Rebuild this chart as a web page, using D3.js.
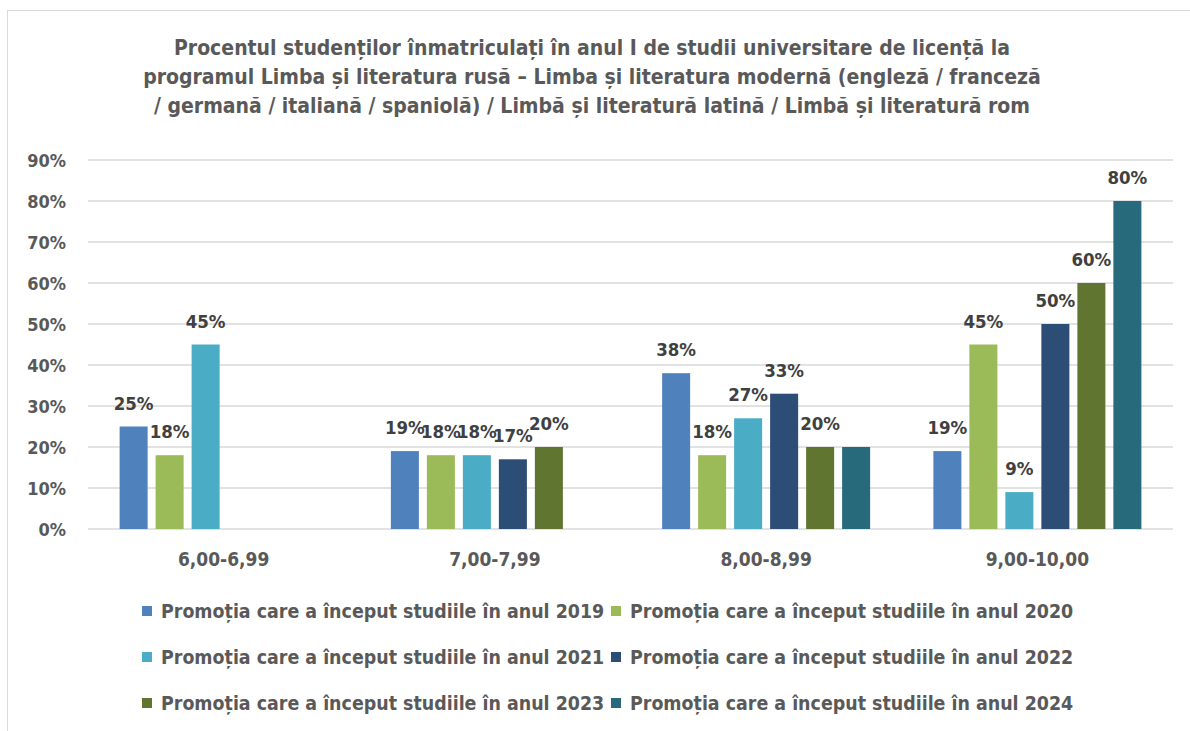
<!DOCTYPE html>
<html>
<head>
<meta charset="utf-8">
<script src="https://cdn.jsdelivr.net/npm/d3@7"></script>
<style>
body{margin:0;background:#fff;}
text{font-family:"Liberation Sans Narrow","DejaVu Sans Condensed",sans-serif;font-weight:bold;}
</style>
</head>
<body>
<script>
var categories=["6,00-6,99","7,00-7,99","8,00-8,99","9,00-10,00"];
var seriesNames=["Promoția care a început studiile în anul 2019","Promoția care a început studiile în anul 2020",
"Promoția care a început studiile în anul 2021","Promoția care a început studiile în anul 2022",
"Promoția care a început studiile în anul 2023","Promoția care a început studiile în anul 2024"];
var s2019=[25,19,38,19];
var s2020=[18,18,18,45];
var s2021=[45,18,27,9];
var s2022=[null,17,33,50];
var s2023=[null,20,20,60];
var s2024=[null,null,20,80];
// labels shown per bar (the 2024 label in 8,00-8,99 is hidden in the original)
var s2024Labels=[false,false,false,true];
var yTicks=[0,10,20,30,40,50,60,70,80,90];
var titleLines=["Procentul studenților înmatriculați în anul I de studii universitare de licență la",
"programul Limba și literatura rusă – Limba și literatura modernă (engleză / franceză",
"/ germană / italiană / spaniolă) / Limbă și literatură latină / Limbă și literatură rom"];
var colors=["#4F81BD","#9BBB59","#4BACC6","#2C4D75","#5F7530","#276A7C"];

var allSeries=[s2019,s2020,s2021,s2022,s2023,s2024];

var W=1190,H=731;
var svg=d3.select("body").append("svg").attr("width",W).attr("height",H);

svg.append("rect").attr("x",7.5).attr("y",10.5).attr("width",W).attr("height",H)
 .attr("fill","#fff").attr("stroke","#D9D9D9");

svg.selectAll(".title").data(titleLines).enter().append("text")
 .attr("x",592).attr("y",function(d,i){return 55+i*29;})
 .attr("text-anchor","middle").attr("fill","#595959").style("font-size","21px")
 .text(function(d){return d;});

var x0=d3.scaleBand().domain(categories).range([88,1173]);
var x1=d3.scaleBand().domain(d3.range(6)).range([0,216]).paddingInner(0.222).paddingOuter(0.111);
var y=d3.scaleLinear().domain([0,90]).range([529,160]);

// gridlines
svg.append("g").selectAll("line").data(yTicks).enter().append("line")
 .attr("x1",88).attr("x2",1173)
 .attr("y1",function(d){return y(d);}).attr("y2",function(d){return y(d);})
 .attr("stroke","#D9D9D9").attr("stroke-width",1.5);

var yAxis=svg.append("g").attr("transform","translate(66,0)")
 .call(d3.axisLeft(y).tickValues(yTicks).tickSize(0).tickPadding(0).tickFormat(function(d){return d+"%";}));
yAxis.select(".domain").remove();
yAxis.selectAll("text").attr("fill","#595959").style("font-size","18px").attr("dy","0.35em");

var xAxis=svg.append("g").attr("transform","translate(0,529)")
 .call(d3.axisBottom(x0).tickSize(0).tickPadding(24));
xAxis.select(".domain").remove();
xAxis.selectAll("text").attr("fill","#595959").style("font-size","19px");

var groupOffset=(x0.bandwidth()-216)/2;
var bars=[];
allSeries.forEach(function(s,si){
  s.forEach(function(v,ci){
    if(v===null) return;
    bars.push({si:si,ci:ci,v:v,label:si<5||s2024Labels[ci]});
  });
});

var g=svg.append("g");
g.selectAll("rect").data(bars).enter().append("rect")
 .attr("x",function(d){return x0(categories[d.ci])+groupOffset+x1(d.si);})
 .attr("y",function(d){return y(d.v);})
 .attr("width",x1.bandwidth())
 .attr("height",function(d){return y(0)-y(d.v);})
 .attr("fill",function(d){return colors[d.si];});

g.selectAll("text").data(bars.filter(function(d){return d.label;})).enter().append("text")
 .attr("x",function(d){return x0(categories[d.ci])+groupOffset+x1(d.si)+x1.bandwidth()/2;})
 .attr("y",function(d){return y(d.v)-17;})
 .attr("text-anchor","middle").attr("fill","#404040").style("font-size","18.5px")
 .text(function(d){return d.v+"%";});

// legend
var leg=svg.append("g");
var items=leg.selectAll("g").data(seriesNames).enter().append("g")
 .attr("transform",function(d,i){return "translate("+(142+(i%2)*469)+","+(611+Math.floor(i/2)*46)+")";});
items.append("rect").attr("x",0).attr("y",-5).attr("width",10).attr("height",10)
 .attr("fill",function(d,i){return colors[i];});
items.append("text").attr("x",19).attr("y",0).attr("dy","0.35em")
 .attr("fill","#595959").style("font-size","19.4px").text(function(d){return d;});
</script>
</body>
</html>
